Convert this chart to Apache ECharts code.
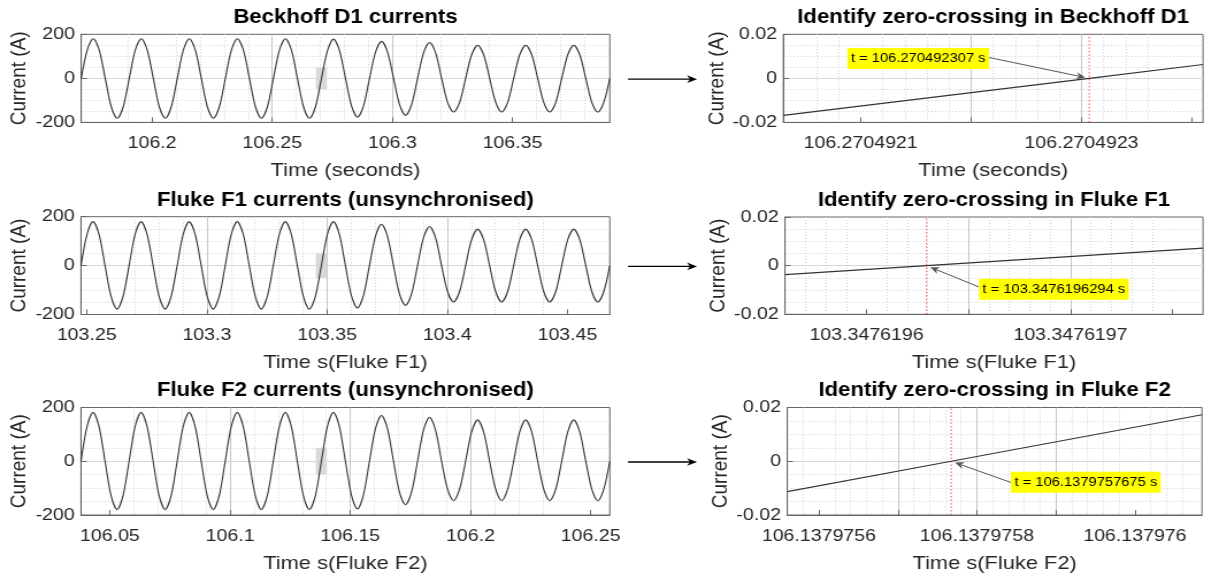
<!DOCTYPE html>
<html>
<head>
<meta charset="utf-8">
<script src="https://cdn.jsdelivr.net/npm/echarts@6/dist/echarts.min.js"></script>
<style>
  html, body { margin: 0; padding: 0; background: #fff; overflow: hidden; }
  #chart { position: absolute; left: 0; top: 0; height: 579px; transform-origin: 0 0; }
</style>
</head>
<body>
<div id="chart"></div>
<script>
// ---------------- data ----------------
// Beckhoff D1 current, eight samples per 20 ms cycle (s, A)
const d1Time = [
  106.17049, 106.17299, 106.17549, 106.17799, 106.18049, 106.18299, 106.18549, 106.18799,
  106.19049, 106.19299, 106.19549, 106.19799, 106.20049, 106.20299, 106.20549, 106.20799,
  106.21049, 106.21299, 106.21549, 106.21799, 106.22049, 106.22299, 106.22549, 106.22799,
  106.23049, 106.23299, 106.23549, 106.23799, 106.24049, 106.24299, 106.24549, 106.24799,
  106.25049, 106.25299, 106.25549, 106.25799, 106.26049, 106.26299, 106.26549, 106.26799,
  106.27049, 106.27299, 106.27549, 106.27799, 106.28049, 106.28299, 106.28549, 106.28799,
  106.29049, 106.29299, 106.29549, 106.29799, 106.30049, 106.30299, 106.30549, 106.30799,
  106.31049, 106.31299, 106.31549, 106.31799, 106.32049, 106.32299, 106.32549, 106.32799,
  106.33049, 106.33299, 106.33549, 106.33799, 106.34049, 106.34299, 106.34549, 106.34799,
  106.35049, 106.35299, 106.35549, 106.35799, 106.36049, 106.36299, 106.36549, 106.36799,
  106.37049, 106.37299, 106.37549, 106.37799, 106.38049, 106.38299, 106.38549, 106.38799,
  106.39049];
const d1Current = [
  0, 128, 180, 128, 0, -129, -181, -129,
  0, 128, 180, 128, 0, -129, -181, -129,
  0, 128, 180, 128, 0, -129, -181, -129,
  0, 128, 180, 128, 0, -129, -181, -129,
  0, 128, 180, 128, 0, -129, -181, -129,
  0, 126, 178, 126, 0, -125, -176, -125,
  0, 119, 168, 119, 0, -119, -168, -119,
  0, 116, 163, 116, 0, -109, -153, -109,
  0, 107, 150, 107, 0, -109, -153, -109,
  0, 107, 150, 107, 0, -109, -153, -109,
  0, 107, 150, 107, 0, -109, -153, -109,
  0];

// Fluke F1 current (unsynchronised clock)
const f1Time = [
  103.24762, 103.25012, 103.25262, 103.25512, 103.25762, 103.26012, 103.26262, 103.26512,
  103.26762, 103.27012, 103.27262, 103.27512, 103.27762, 103.28012, 103.28262, 103.28512,
  103.28762, 103.29012, 103.29262, 103.29512, 103.29762, 103.30012, 103.30262, 103.30512,
  103.30762, 103.31012, 103.31262, 103.31512, 103.31762, 103.32012, 103.32262, 103.32512,
  103.32762, 103.33012, 103.33262, 103.33512, 103.33762, 103.34012, 103.34262, 103.34512,
  103.34762, 103.35012, 103.35262, 103.35512, 103.35762, 103.36012, 103.36262, 103.36512,
  103.36762, 103.37012, 103.37262, 103.37512, 103.37762, 103.38012, 103.38262, 103.38512,
  103.38762, 103.39012, 103.39262, 103.39512, 103.39762, 103.40012, 103.40262, 103.40512,
  103.40762, 103.41012, 103.41262, 103.41512, 103.41762, 103.42012, 103.42262, 103.42512,
  103.42762, 103.43012, 103.43262, 103.43512, 103.43762, 103.44012, 103.44262, 103.44512,
  103.44762, 103.45012, 103.45262, 103.45512, 103.45762, 103.46012, 103.46262, 103.46512,
  103.46762];
const f1Current = [
  0, 128, 180, 128, 0, -126, -178, -126,
  0, 128, 180, 128, 0, -126, -178, -126,
  0, 128, 180, 128, 0, -126, -178, -126,
  0, 128, 180, 128, 0, -126, -178, -126,
  0, 128, 180, 128, 0, -126, -178, -126,
  0, 128, 180, 128, 0, -123, -173, -123,
  0, 120, 169, 120, 0, -116, -163, -116,
  0, 114, 160, 114, 0, -106, -149, -106,
  0, 106, 149, 106, 0, -106, -149, -106,
  0, 106, 149, 106, 0, -106, -149, -106,
  0, 106, 149, 106, 0, -106, -149, -106,
  0];

// Fluke F2 current (unsynchronised clock)
const f2Time = [
  106.03798, 106.04048, 106.04298, 106.04548, 106.04798, 106.05048, 106.05298, 106.05548,
  106.05798, 106.06048, 106.06298, 106.06548, 106.06798, 106.07048, 106.07298, 106.07548,
  106.07798, 106.08048, 106.08298, 106.08548, 106.08798, 106.09048, 106.09298, 106.09548,
  106.09798, 106.10048, 106.10298, 106.10548, 106.10798, 106.11048, 106.11298, 106.11548,
  106.11798, 106.12048, 106.12298, 106.12548, 106.12798, 106.13048, 106.13298, 106.13548,
  106.13798, 106.14048, 106.14298, 106.14548, 106.14798, 106.15048, 106.15298, 106.15548,
  106.15798, 106.16048, 106.16298, 106.16548, 106.16798, 106.17048, 106.17298, 106.17548,
  106.17798, 106.18048, 106.18298, 106.18548, 106.18798, 106.19048, 106.19298, 106.19548,
  106.19798, 106.20048, 106.20298, 106.20548, 106.20798, 106.21048, 106.21298, 106.21548,
  106.21798, 106.22048, 106.22298, 106.22548, 106.22798, 106.23048, 106.23298, 106.23548,
  106.23798, 106.24048, 106.24298, 106.24548, 106.24798, 106.25048, 106.25298, 106.25548,
  106.25798];
const f2Current = [
  0, 129, 182, 129, 0, -128, -180, -128,
  0, 129, 182, 129, 0, -128, -180, -128,
  0, 129, 182, 129, 0, -128, -180, -128,
  0, 129, 182, 129, 0, -128, -180, -128,
  0, 129, 182, 129, 0, -128, -180, -128,
  0, 129, 182, 129, 0, -126, -177, -126,
  0, 121, 170, 121, 0, -115, -162, -115,
  0, 116, 164, 116, 0, -104, -147, -104,
  0, 109, 154, 109, 0, -104, -147, -104,
  0, 109, 154, 109, 0, -104, -147, -104,
  0, 109, 154, 109, 0, -104, -147, -104,
  0];

// rising zero crossings found in each recording (s)
const d1Crossing = 106.270492307;
const f1Crossing = 103.3476196294;
const f2Crossing = 106.1379757675;

// close-ups around each zero crossing
const d1ZoomTime = [106.27049203, 106.270492307, 106.27049241];
const d1ZoomCurrent = [-0.0168, 0, 0.0063];
const f1ZoomTime = [103.34761956, 103.3476196294, 103.347619765];
const f1ZoomCurrent = [-0.0037, 0, 0.0072];
const f2ZoomTime = [106.13797556, 106.1379757675, 106.137976085];
const f2ZoomCurrent = [-0.0113, 0, 0.0173];

// time axis ranges
const d1Range = [106.17049, 106.39049];
const f1Range = [103.24762, 103.46762];
const f2Range = [106.03798, 106.25798];
const d1ZoomRange = [106.27049203, 106.27049241];
const f1ZoomRange = [103.34761956, 103.347619765];
const f2ZoomRange = [106.13797556, 106.137976085];

// tick marks (grid) and tick labels
const d1TickValues = [106.2, 106.25, 106.3, 106.35];
const d1TickLabels = ['106.2', '106.25', '106.3', '106.35'];
const f1TickValues = [103.25, 103.3, 103.35, 103.4, 103.45];
const f1TickLabels = ['103.25', '103.3', '103.35', '103.4', '103.45'];
const f2TickValues = [106.05, 106.1, 106.15, 106.2, 106.25];
const f2TickLabels = ['106.05', '106.1', '106.15', '106.2', '106.25'];

const d1ZoomGrid = [106.2704921, 106.2704922, 106.2704923, 106.2704924];
const d1ZoomTickValues = [106.2704921, 106.2704923];
const d1ZoomTickLabels = ['106.2704921', '106.2704923'];
const f1ZoomGrid = [103.3476196, 103.34761965, 103.3476197, 103.34761975];
const f1ZoomTickValues = [103.3476196, 103.3476197];
const f1ZoomTickLabels = ['103.3476196', '103.3476197'];
const f2ZoomGrid = [106.1379756, 106.1379757, 106.1379758, 106.1379759, 106.137976];
const f2ZoomTickValues = [106.1379756, 106.1379758, 106.137976];
const f2ZoomTickLabels = ['106.1379756', '106.1379758', '106.137976'];

// ---------------- figure setup ----------------
const FIG_W = 1206;
const SX = 1.15;                    // the figure is stretched horizontally
const FONT = "'Liberation Sans', Arial, Helvetica, sans-serif";
const INK = '#262626';
const FRAME = '#666';

const el = document.getElementById('chart');
el.style.width = (FIG_W / SX) + 'px';
el.style.transform = 'scaleX(' + SX + ')';
const chart = echarts.init(el, null, { renderer: 'canvas' });

// panel definitions; boxes are in figure pixels
const panels = [
  { kind: 'wave', title: 'Beckhoff D1 currents', xName: 'Time (seconds)',
    time: d1Time, current: d1Current, range: d1Range, grid: d1TickValues,
    labelAt: d1TickValues, labelText: d1TickLabels, minorStep: 0.01, crossing: d1Crossing,
    box: { l: 81.2, r: 609.8, t: 34.3, b: 122.4 } },
  { kind: 'zoom', title: 'Identify zero-crossing in Beckhoff D1', xName: 'Time (seconds)',
    time: d1ZoomTime, current: d1ZoomCurrent, range: d1ZoomRange, grid: d1ZoomGrid,
    labelAt: d1ZoomTickValues, labelText: d1ZoomTickLabels, minorStep: 2e-8, crossing: d1Crossing,
    box: { l: 783.3, r: 1203, t: 34.3, b: 122.4 },
    note: { tail: [989, 57.5], side: 'right', cy: 58.5 } },
  { kind: 'wave', title: 'Fluke F1 currents (unsynchronised)', xName: 'Time s(Fluke F1)',
    time: f1Time, current: f1Current, range: f1Range, grid: f1TickValues,
    labelAt: f1TickValues, labelText: f1TickLabels, minorStep: 0.01, crossing: f1Crossing,
    box: { l: 81, r: 609.8, t: 216.7, b: 314.5 } },
  { kind: 'zoom', title: 'Identify zero-crossing in Fluke F1', xName: 'Time s(Fluke F1)',
    time: f1ZoomTime, current: f1ZoomCurrent, range: f1ZoomRange, grid: f1ZoomGrid,
    labelAt: f1ZoomTickValues, labelText: f1ZoomTickLabels, minorStep: 1e-8, crossing: f1Crossing,
    box: { l: 785, r: 1203, t: 217, b: 314.3 },
    note: { tail: [979, 287], side: 'left', cy: 289.2 } },
  { kind: 'wave', title: 'Fluke F2 currents (unsynchronised)', xName: 'Time s(Fluke F2)',
    time: f2Time, current: f2Current, range: f2Range, grid: f2TickValues,
    labelAt: f2TickValues, labelText: f2TickLabels, minorStep: 0.01, crossing: f2Crossing,
    box: { l: 81, r: 609.8, t: 407.5, b: 515 } },
  { kind: 'zoom', title: 'Identify zero-crossing in Fluke F2', xName: 'Time s(Fluke F2)',
    time: f2ZoomTime, current: f2ZoomCurrent, range: f2ZoomRange, grid: f2ZoomGrid,
    labelAt: f2ZoomTickValues, labelText: f2ZoomTickLabels, minorStep: 2e-8, crossing: f2Crossing,
    box: { l: 787.3, r: 1202, t: 407.5, b: 515 },
    note: { tail: [1011, 482.5], side: 'left', cy: 482.2 } }
];

// multiples of step inside [lo, hi], leaving out the major grid positions
function minorPositions(lo, hi, step, majors) {
  const out = [];
  const k0 = Math.ceil(lo / step - 1e-9), k1 = Math.floor(hi / step + 1e-9);
  for (let k = k0; k <= k1; k++) {
    const v = k * step;
    if (!majors.some(m => Math.abs(m - v) < step * 1e-3)) out.push(v);
  }
  return out;
}

const grids = [], xAxes = [], yAxes = [], series = [];

panels.forEach((p, n) => {
  const b = p.box;
  const isWave = p.kind === 'wave';
  const yMin = isWave ? -200 : -0.02, yMax = isWave ? 200 : 0.02;
  grids.push({
    left: b.l / SX, top: b.t, width: (b.r - b.l) / SX, height: b.b - b.t,
    show: true, backgroundColor: '#fff', borderColor: FRAME, borderWidth: 1,
    containLabel: false, outerBoundsMode: 'none'
  });

  // main time axis: labels, ticks, major grid
  xAxes.push({
    type: 'value', gridIndex: n, position: 'bottom',
    min: p.range[0], max: p.range[1],
    name: p.xName, nameLocation: 'middle', nameGap: 39,
    nameTextStyle: { fontFamily: FONT, fontSize: 19, color: INK },
    axisLine: { show: true, onZero: false, lineStyle: { color: FRAME, width: 1 } },
    axisTick: { show: true, inside: true, length: 5, customValues: p.grid, lineStyle: { color: FRAME } },
    axisLabel: {
      customValues: p.labelAt, margin: 12.5, fontFamily: FONT, fontSize: 17, color: INK,
      formatter: v => {
        const j = p.labelAt.findIndex(a => Math.abs(a - v) < 1e-11);
        return j < 0 ? '' : p.labelText[j];
      }
    },
    splitLine: { show: true, showMinLine: false, showMaxLine: false, lineStyle: { color: '#c6c6c6', width: 1 } }
  });
  // companion axis carrying the dotted minor grid
  xAxes.push({
    type: 'value', gridIndex: n, position: 'bottom',
    min: p.range[0], max: p.range[1],
    axisLine: { show: false, onZero: false },
    axisTick: { show: false, customValues: minorPositions(p.range[0], p.range[1], p.minorStep, p.grid) },
    axisLabel: { show: false },
    splitLine: { show: true, showMinLine: false, showMaxLine: false, lineStyle: { color: '#d0d0d0', width: 1, type: [1, 2] } }
  });

  yAxes.push({
    type: 'value', gridIndex: n,
    min: yMin, max: yMax, interval: isWave ? 200 : 0.02,
    name: 'Current (A)', nameLocation: 'middle', nameGap: isWave ? 44.5 : 47,
    nameTextStyle: { fontFamily: FONT, fontSize: 19, color: INK },
    axisLine: { show: true, onZero: false, lineStyle: { color: FRAME, width: 1 } },
    axisTick: { show: true, inside: true, length: 5, lineStyle: { color: FRAME } },
    axisLabel: { margin: 5.5, fontFamily: FONT, fontSize: 17, color: INK },
    splitLine: { show: true, showMinLine: false, showMaxLine: false, lineStyle: { color: '#d8d8d8', width: 1 } },
    minorTick: { show: false, splitNumber: 4 },
    minorSplitLine: { show: true, lineStyle: { color: '#d0d0d0', width: 1, type: [1, 2] } }
  });

  const pts = p.time.map((t, k) => [t, p.current[k]]);
  if (isWave) {
    // shaded block marking the cycle that is examined on the right
    series.push({
      type: 'line', xAxisIndex: 2 * n, yAxisIndex: n, data: [], z: 1, silent: true,
      markArea: {
        silent: true, itemStyle: { color: '#d9d9d9', borderWidth: 0 },
        data: [[{ xAxis: p.crossing - 0.0023, yAxis: -50 }, { xAxis: p.crossing + 0.0023, yAxis: 50 }]]
      }
    });
    series.push({
      type: 'line', xAxisIndex: 2 * n, yAxisIndex: n, data: pts, z: 3,
      showSymbol: false, symbol: 'none', smooth: 0.3, silent: true,
      lineStyle: { color: '#333', width: 1.1 }
    });
  } else {
    // red dotted marker through the zero crossing
    series.push({
      type: 'line', xAxisIndex: 2 * n, yAxisIndex: n, z: 2, silent: true,
      data: [[p.crossing, yMin], [p.crossing, yMax]],
      showSymbol: false, symbol: 'none',
      lineStyle: { color: '#ff4a4a', type: [1.5, 2], width: 1 }
    });
    series.push({
      type: 'line', xAxisIndex: 2 * n, yAxisIndex: n, data: pts, z: 3,
      showSymbol: false, symbol: 'none', silent: true,
      lineStyle: { color: '#333', width: 1.1 }
    });
  }
});

chart.setOption({
  animation: false,
  backgroundColor: '#fff',
  grid: grids, xAxis: xAxes, yAxis: yAxes, series: series
});

// ---------------- titles, arrows and notes ----------------
const graphics = [];
const X = x => x / SX;   // figure px -> chart px

function arrow(tail, tip, color, width, headLen, headHalf) {
  const dx = tip[0] - tail[0], dy = tip[1] - tail[1];
  const len = Math.hypot(dx, dy), ux = dx / len, uy = dy / len;
  const bx = tip[0] - ux * headLen, by = tip[1] - uy * headLen;
  const nx = -uy, ny = ux;
  const notch = [tip[0] - ux * headLen * 0.7, tip[1] - uy * headLen * 0.7];
  graphics.push({
    type: 'line', silent: true, z: 50,
    shape: { x1: X(tail[0]), y1: tail[1], x2: X(notch[0]), y2: notch[1] },
    style: { stroke: color, lineWidth: width }
  });
  graphics.push({
    type: 'polygon', silent: true, z: 50,
    shape: { points: [[X(tip[0]), tip[1]], [X(bx + nx * headHalf), by + ny * headHalf],
                      [X(notch[0]), notch[1]], [X(bx - nx * headHalf), by - ny * headHalf]] },
    style: { fill: color }
  });
}

panels.forEach((p, n) => {
  const b = p.box;
  graphics.push({
    type: 'text', silent: true, z: 50,
    x: X((b.l + b.r) / 2), y: b.t - 16.5,
    style: { text: p.title, fontFamily: FONT, fontSize: 19.3, fontWeight: 'bold', fill: '#000',
             align: 'center', verticalAlign: 'middle' }
  });

  if (p.kind === 'wave') {
    // arrow leading to the close-up panel
    const y = (b.t + b.b) / 2 + 0.8;
    arrow([628, y], [697, y], '#000', 1.4, 10, 3.8);
  } else {
    const c = chart.convertToPixel({ xAxisIndex: 2 * n, yAxisIndex: n }, [p.crossing, 0]);
    const pt = [c[0] * SX, c[1]];
    const tail = p.note.tail;
    const dx = pt[0] - tail[0], dy = pt[1] - tail[1], L = Math.hypot(dx, dy);
    const tip = [pt[0] - dx / L * 4, pt[1] - dy / L * 4];
    arrow(tail, tip, '#555', 1, 9, 3.6);
    graphics.push({
      type: 'text', silent: true, z: 51,
      x: X(tail[0]), y: p.note.cy,
      style: { text: 't = ' + String(p.crossing) + ' s', fontFamily: FONT, fontSize: 12.8, fill: '#000',
               lineHeight: 14, backgroundColor: '#ffff00', padding: [4, 3, 3, 3],
               align: p.note.side, verticalAlign: 'middle' }
    });
  }
});

chart.setOption({ graphic: graphics });
</script>
</body>
</html>
